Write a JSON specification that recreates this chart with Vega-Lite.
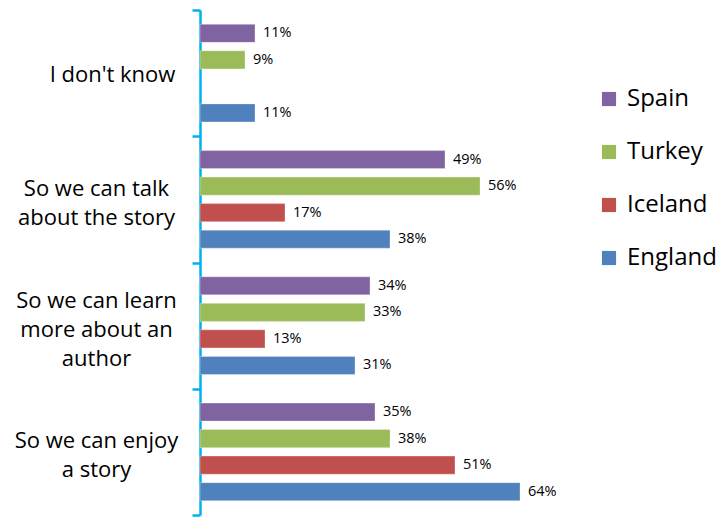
{
  "$schema": "https://vega.github.io/schema/vega-lite/v6.json",
  "autosize": "none",
  "width": 350,
  "height": 505,
  "padding": {"left": 200, "top": 10, "right": 168, "bottom": 2},
  "background": "white",
  "config": {"view": {"stroke": null}, "font": "Open Sans"},
  "data": {"values": [
    {"reason": "I don't know", "country": "Spain", "value": 0.11},
    {"reason": "I don't know", "country": "Turkey", "value": 0.09},
    {"reason": "I don't know", "country": "England", "value": 0.11},
    {"reason": "So we can talk|about the story", "country": "Spain", "value": 0.49},
    {"reason": "So we can talk|about the story", "country": "Turkey", "value": 0.56},
    {"reason": "So we can talk|about the story", "country": "Iceland", "value": 0.17},
    {"reason": "So we can talk|about the story", "country": "England", "value": 0.38},
    {"reason": "So we can learn|more about an|author", "country": "Spain", "value": 0.34},
    {"reason": "So we can learn|more about an|author", "country": "Turkey", "value": 0.33},
    {"reason": "So we can learn|more about an|author", "country": "Iceland", "value": 0.13},
    {"reason": "So we can learn|more about an|author", "country": "England", "value": 0.31},
    {"reason": "So we can enjoy|a story", "country": "Spain", "value": 0.35},
    {"reason": "So we can enjoy|a story", "country": "Turkey", "value": 0.38},
    {"reason": "So we can enjoy|a story", "country": "Iceland", "value": 0.51},
    {"reason": "So we can enjoy|a story", "country": "England", "value": 0.64}
  ]},
  "encoding": {
    "y": {
      "field": "reason", "type": "nominal",
      "sort": ["I don't know", "So we can talk|about the story", "So we can learn|more about an|author", "So we can enjoy|a story"],
      "scale": {"paddingInner": 0, "paddingOuter": 0},
      "axis": {
        "title": null,
        "labelExpr": "split(datum.label, '|')",
        "labelAlign": "center",
        "labelPadding": {"condition": {"test": "datum.value == \"I don't know\"", "value": 80}, "value": 96},
        "labelOffset": {"condition": [
          {"test": "datum.value == 'So we can learn|more about an|author'", "value": -25},
          {"test": "datum.value == 'So we can talk|about the story' || datum.value == 'So we can enjoy|a story'", "value": -11}
        ], "value": 1},
        "labelFontSize": 22,
        "labelLineHeight": 29,
        "labelColor": "#000000",
        "labelLimit": 200,
        "domainColor": "#00B0F0",
        "domainWidth": 2.5,
        "tickColor": "#00B0F0",
        "tickWidth": 2.5,
        "tickSize": 8,
        "tickBand": "extent"
      }
    },
    "yOffset": {
      "field": "country", "type": "nominal",
      "sort": ["Spain", "Turkey", "Iceland", "England"],
      "scale": {"domain": ["Spain", "Turkey", "Iceland", "England"], "paddingInner": 0.32, "paddingOuter": 0.54}
    },
    "x": {
      "field": "value", "type": "quantitative",
      "scale": {"domain": [0, 0.7]},
      "axis": null
    }
  },
  "layer": [
    {
      "mark": {"type": "bar", "stroke": "white", "strokeWidth": 0.5, "strokeOpacity": 0.6},
      "encoding": {
        "color": {
          "field": "country", "type": "nominal",
          "scale": {"domain": ["Spain", "Turkey", "Iceland", "England"], "range": ["#8064A2", "#9BBB59", "#C0504D", "#4F81BD"]},
          "legend": {
            "title": null,
            "orient": "none",
            "legendX": 397,
            "legendY": 77,
            "symbolType": "square",
            "symbolSize": 200,
            "symbolStrokeWidth": 0,
            "labelFontSize": 24,
            "labelColor": "#000000",
            "labelOffset": 6,
            "rowPadding": 29
          }
        }
      }
    },
    {
      "mark": {"type": "text", "align": "left", "dx": 8, "fontSize": 14.5, "color": "#000000"},
      "encoding": {
        "text": {"field": "value", "type": "quantitative", "format": ".0%"}
      }
    }
  ]
}
